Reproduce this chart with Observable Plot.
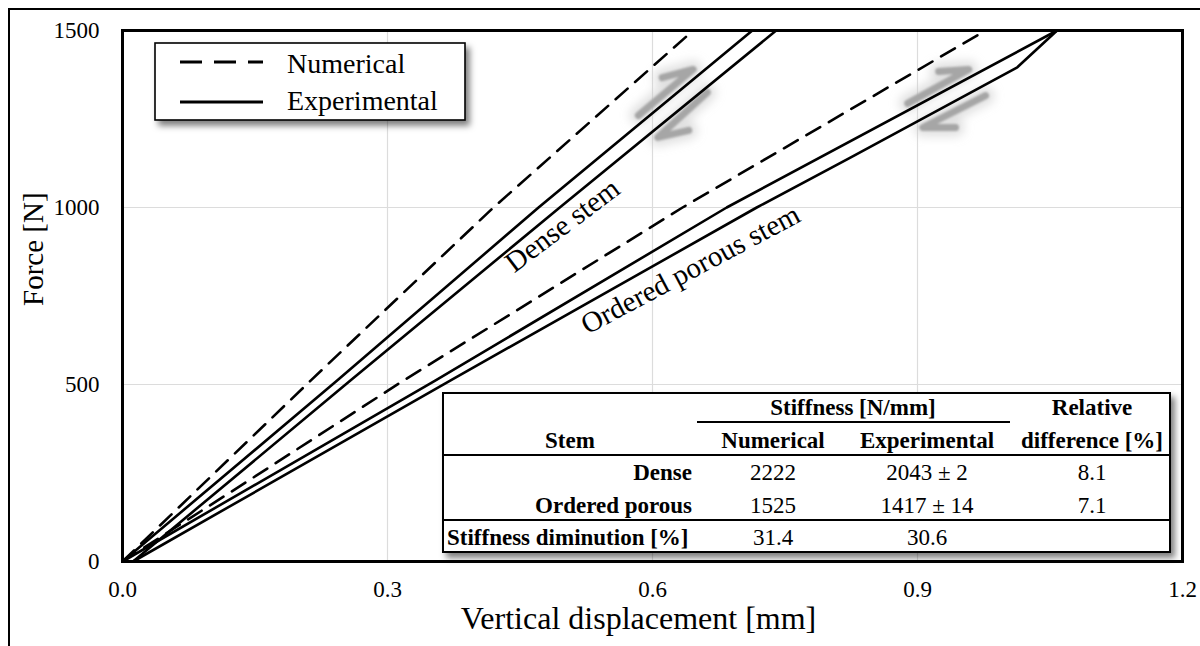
<!DOCTYPE html>
<html>
<head>
<meta charset="utf-8">
<script src="https://cdn.jsdelivr.net/npm/d3@7"></script>
<script src="https://cdn.jsdelivr.net/npm/@observablehq/plot@0.6"></script>
<style>
  html, body { margin: 0; padding: 0; background: #fff; overflow: hidden; }
  #wrap { position: relative; width: 1200px; height: 646px; overflow: hidden; }
  #border { position: absolute; left: 8px; top: 8px; width: 1400px; height: 1400px;
            border-left: 2px solid #000; border-top: 2px solid #000; }
  #wrap svg { position: absolute; left: 0; top: 0; }
  svg text { font-family: "Liberation Serif", "Times New Roman", serif; }
</style>
</head>
<body>
<div id="wrap"><div id="border"></div></div>
<script>
// Axis ticks
const xTicks = [0, 0.3, 0.6, 0.9, 1.2];
const yTicks = [0, 500, 1000, 1500];

// Force–displacement curves (displacement in mm, force in N)
const denseNumericalDisp  = [0, 0.213, 0.42, 0.646];
const denseNumericalForce = [0, 511, 1000, 1500];

const denseLoadingDisp    = [0, 0.243, 0.471, 0.713];
const denseLoadingForce   = [0, 511, 1000, 1500];
const denseUnloadingDisp  = [0.740, 0.495, 0.258, 0.012];
const denseUnloadingForce = [1500, 1000, 511, 0];

const porousNumericalDisp  = [0, 0.148, 0.318, 0.634, 0.977];
const porousNumericalForce = [0, 237, 511, 1000, 1500];

const porousLoadingDisp    = [0, 0.354, 0.684, 1.058];
const porousLoadingForce   = [0, 511, 1000, 1500];
const porousUnloadingDisp  = [1.058, 1.013, 0.824, 0.718, 0.371, 0.012];
const porousUnloadingForce = [1500, 1396, 1141, 1000, 511, 0];

// Loading / unloading direction arrows (half-arrow strokes)
const denseUpArrowDisp    = [0.584, 0.646, 0.611];
const denseUpArrowForce   = [1260, 1390, 1367];
const denseDownArrowDisp  = [0.662, 0.606, 0.641];
const denseDownArrowForce = [1325, 1198, 1218];
const porousUpArrowDisp    = [0.889, 0.958, 0.924];
const porousUpArrowForce   = [1294, 1390, 1384];
const porousDownArrowDisp  = [0.977, 0.906, 0.943];
const porousDownArrowForce = [1316, 1226, 1226];

// Curve labels
const stemLabelText  = ["Dense stem", "Ordered porous stem"];
const stemLabelDisp  = [0.498, 0.643];
const stemLabelForce = [949, 825];
const stemLabelAngle = [-37, -28];

// Stiffness table
const tableStems        = ["Dense", "Ordered porous"];
const tableNumerical    = ["2222", "1525"];
const tableExperimental = ["2043 ± 2", "1417 ± 14"];
const tableRelDiff      = ["8.1", "7.1"];
const diminutionNumerical    = "31.4";
const diminutionExperimental = "30.6";

// Build long-format tables for Plot
function toRows(name, disp, force) {
  return disp.map((d, i) => ({series: name, disp: d, force: force[i]}));
}
const numericalRows = [
  ...toRows("dense", denseNumericalDisp, denseNumericalForce),
  ...toRows("porous", porousNumericalDisp, porousNumericalForce)
];
const experimentalRows = [
  ...toRows("dense-load", denseLoadingDisp, denseLoadingForce),
  ...toRows("dense-unload", denseUnloadingDisp, denseUnloadingForce),
  ...toRows("porous-load", porousLoadingDisp, porousLoadingForce),
  ...toRows("porous-unload", porousUnloadingDisp, porousUnloadingForce)
];
const arrowRows = [
  ...toRows("a1", denseUpArrowDisp, denseUpArrowForce),
  ...toRows("a2", denseDownArrowDisp, denseDownArrowForce),
  ...toRows("a3", porousUpArrowDisp, porousUpArrowForce),
  ...toRows("a4", porousDownArrowDisp, porousDownArrowForce)
];
const labelRows = stemLabelText.map((t, i) => ({text: t, disp: stemLabelDisp[i], force: stemLabelForce[i], angle: stemLabelAngle[i]}));

const serif = '"Liberation Serif", "Times New Roman", serif';
const haloColor = "#c8c8c8";
const coreColor = "#a6a6a6";

const chart = Plot.plot({
  width: 1200,
  height: 646,
  marginLeft: 122,
  marginRight: 18,
  marginTop: 30,
  marginBottom: 85,
  x: {domain: [0, 1.2]},
  y: {domain: [0, 1500]},
  style: {fontFamily: serif, fontSize: "23px", color: "#000", background: "transparent", overflow: "visible"},
  marks: [
    Plot.gridX(xTicks.slice(1, -1), {stroke: "#dcdcdc", strokeOpacity: 1, strokeWidth: 1.2}),
    Plot.gridY(yTicks.slice(1, -1), {stroke: "#dcdcdc", strokeOpacity: 1, strokeWidth: 1.2}),
    Plot.line(arrowRows, {x: "disp", y: "force", z: "series", stroke: haloColor, strokeWidth: 18,
      strokeOpacity: 0.55, strokeLinecap: "round", strokeLinejoin: "round"}),
    Plot.line(arrowRows, {x: "disp", y: "force", z: "series", stroke: coreColor, strokeWidth: 7,
      strokeLinecap: "round", strokeLinejoin: "round"}),
    Plot.line(numericalRows, {x: "disp", y: "force", z: "series", stroke: "#000", strokeWidth: 2.6,
      strokeDasharray: "16,10"}),
    Plot.line(experimentalRows, {x: "disp", y: "force", z: "series", stroke: "#000", strokeWidth: 2.6}),
    Plot.text(labelRows, {x: "disp", y: "force", text: "text", rotate: "angle", fontSize: 29,
      fontFamily: serif, fill: "#000", textAnchor: "middle", lineAnchor: "middle"}),
    Plot.axisX(xTicks, {tickSize: 0, tickPadding: 19, tickFormat: d3.format(".1f"), fontSize: 23,
      fontFamily: serif, label: null}),
    Plot.axisY(yTicks, {tickSize: 0, tickPadding: 23, tickFormat: d3.format("d"), fontSize: 23,
      fontFamily: serif, label: null}),
    Plot.frame({stroke: "#000", strokeWidth: 3}),
    Plot.text(["Vertical displacement [mm]"], {text: d => d, frameAnchor: "bottom", dy: 67, dx: -14,
      fontSize: 32, fontFamily: serif}),
    Plot.text(["Force [N]"], {text: d => d, frameAnchor: "left", rotate: -90, dx: -89, dy: 10,
      fontSize: 29, fontFamily: serif})
  ]
});
document.getElementById("wrap").appendChild(chart);

// Soft blur on the direction arrows
const csvg = d3.select(chart);
const cdefs = csvg.insert("defs", ":first-child");
cdefs.append("filter").attr("id", "haloBlur").attr("filterUnits", "userSpaceOnUse")
  .attr("x", 0).attr("y", 0).attr("width", 1200).attr("height", 646)
  .append("feGaussianBlur").attr("stdDeviation", 5);
cdefs.append("filter").attr("id", "coreBlur").attr("filterUnits", "userSpaceOnUse")
  .attr("x", 0).attr("y", 0).attr("width", 1200).attr("height", 646)
  .append("feGaussianBlur").attr("stdDeviation", 0.9);
csvg.selectAll("g").filter(function() { return this.getAttribute("stroke") === haloColor; })
  .attr("filter", "url(#haloBlur)");
csvg.selectAll("g").filter(function() { return this.getAttribute("stroke") === coreColor; })
  .attr("filter", "url(#coreBlur)");

// Legend and stiffness table drawn as an overlay
const ov = d3.select("#wrap").append("svg").attr("width", 1200).attr("height", 646);
const defs = ov.append("defs");
const sh = defs.append("filter").attr("id", "boxShadow").attr("x", "-5%").attr("y", "-10%").attr("width", "115%").attr("height", "130%");
sh.append("feDropShadow").attr("dx", 4).attr("dy", 5).attr("stdDeviation", 3)
  .attr("flood-color", "#000").attr("flood-opacity", 0.5);

// Legend
const lg = ov.append("g");
lg.append("rect").attr("x", 155).attr("y", 43).attr("width", 310).attr("height", 77)
  .attr("fill", "#fff").attr("stroke", "#000").attr("stroke-width", 1.6).attr("filter", "url(#boxShadow)");
lg.append("line").attr("x1", 180).attr("x2", 263).attr("y1", 62).attr("y2", 62)
  .attr("stroke", "#000").attr("stroke-width", 3).attr("stroke-dasharray", "22,12");
lg.append("line").attr("x1", 180).attr("x2", 263).attr("y1", 102).attr("y2", 102)
  .attr("stroke", "#000").attr("stroke-width", 3);
lg.append("text").attr("x", 287).attr("y", 73).attr("font-size", 28).text("Numerical");
lg.append("text").attr("x", 287).attr("y", 110).attr("font-size", 28).text("Experimental");

// Table
const tb = ov.append("g").attr("font-size", 23);
tb.append("rect").attr("x", 443).attr("y", 393).attr("width", 727).attr("height", 159)
  .attr("fill", "#fff").attr("stroke", "#000").attr("stroke-width", 2).attr("filter", "url(#boxShadow)");
const hline = (x1, x2, y, w) => tb.append("line").attr("x1", x1).attr("x2", x2).attr("y1", y).attr("y2", y)
  .attr("stroke", "#000").attr("stroke-width", w);
hline(697, 1010, 422, 1.8);
hline(443, 1170, 455, 1.8);
hline(443, 1170, 520, 1.8);

const txt = (x, yc, s, anchor, bold) => tb.append("text").attr("x", x).attr("y", yc + 7.6)
  .attr("text-anchor", anchor).attr("font-weight", bold ? "bold" : "normal").text(s);

const colStem = 692, colNum = 773, colExp = 927, colRel = 1092;
txt(853, 407, "Stiffness [N/mm]", "middle", true);
txt(colRel, 407, "Relative", "middle", true);
txt(570, 440, "Stem", "middle", true);
txt(colNum, 440, "Numerical", "middle", true);
txt(colExp, 440, "Experimental", "middle", true);
txt(colRel, 440, "difference [%]", "middle", true);
const rowY = [472, 505];
tableStems.forEach((s, i) => {
  txt(colStem, rowY[i], s, "end", true);
  txt(colNum, rowY[i], tableNumerical[i], "middle", false);
  txt(colExp, rowY[i], tableExperimental[i], "middle", false);
  txt(colRel, rowY[i], tableRelDiff[i], "middle", false);
});
txt(447, 537, "Stiffness diminution [%]", "start", true);
txt(colNum, 537, diminutionNumerical, "middle", false);
txt(colExp, 537, diminutionExperimental, "middle", false);
</script>
</body>
</html>
